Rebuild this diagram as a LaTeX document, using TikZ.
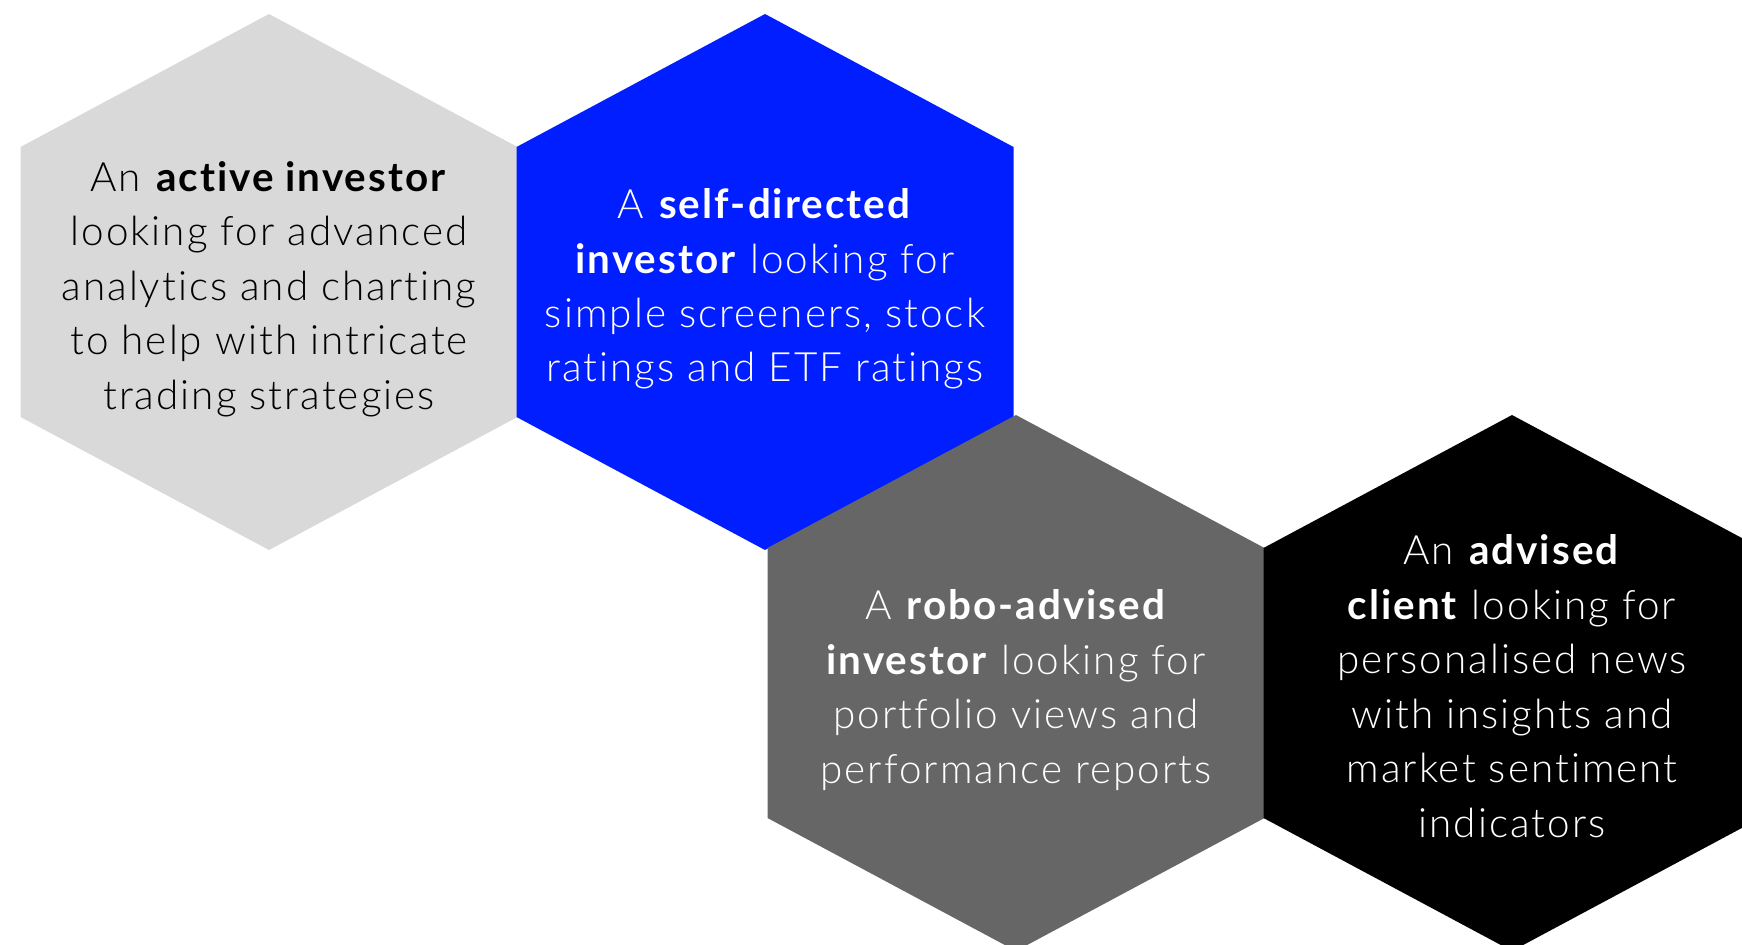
\documentclass[tikz,border=0pt]{standalone}
\usepackage{fontspec}
\setmainfont{Lato Light}[BoldFont={Lato Bold}, LetterSpace=5, Ligatures=NoCommon]
\usetikzlibrary{backgrounds}

\definecolor{hexgray}{HTML}{D9D9D9}
\definecolor{hexblue}{HTML}{001EFF}
\definecolor{hexdark}{HTML}{666666}

\tikzset{
    hex text/.style={align=center, font=\fontsize{23}{31}\selectfont, inner sep=0},
    dark text/.style={hex text, text=black},
    light text/.style={hex text, text=white}
    }

\begin{document}
\begin{tikzpicture}[x=0.02cm, y=-0.02cm]
    \useasboundingbox (0,0) rectangle (1742,945);
    \clip (0,0) rectangle (1742,945);
    \node (active)[dark text] at (269,289)
        {An \textbf{active investor}\\looking for advanced\\analytics and charting\\to help with intricate\\trading strategies};
    \node (self)[light text] at (765,289)
        {A \textbf{self-directed}\\\textbf{investor} looking for\\simple screeners, stock\\ratings and ETF ratings};
    \node (robo)[light text] at (1016,690)
        {A \textbf{robo-advised}\\\textbf{investor} looking for\\portfolio views and\\performance reports};
    \node (client)[light text] at (1512,686)
        {An \textbf{advised}\\\textbf{client} looking for\\personalised news\\with insights and\\market sentiment\\indicators};
    \begin{scope}[on background layer]
        \foreach \n/\col/\cy in {active/hexgray/282, self/hexblue/282, robo/hexdark/683, client/black/683}
            \fill[\col] (\n.center |- 0,\cy) ++(0,-268) -- ++(248.5,133) -- ++(0,270)
                -- ++(-248.5,133) -- ++(-248.5,-133) -- ++(0,-270) -- cycle;
    \end{scope}
\end{tikzpicture}
\end{document}
